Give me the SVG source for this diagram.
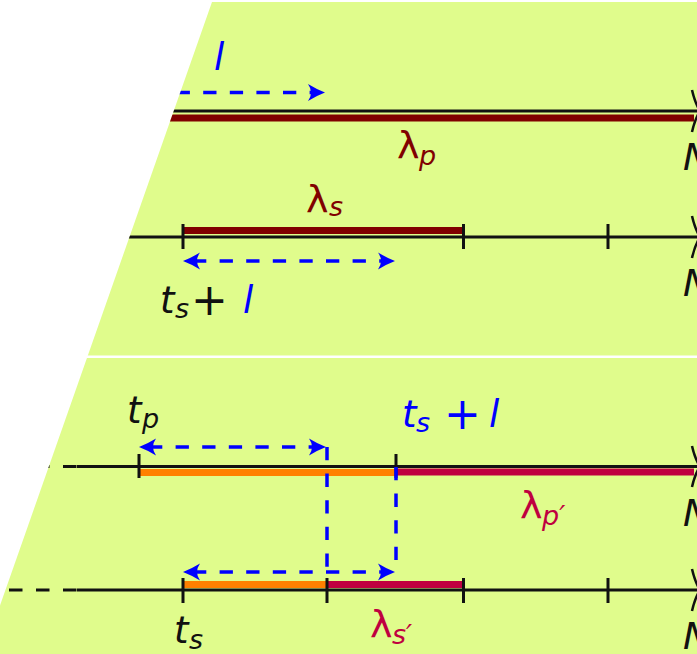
<svg xmlns="http://www.w3.org/2000/svg" width="697" height="654" viewBox="0 0 697 654">
<defs>
<style>
.bg{fill:#E0FC8C}
.axis{stroke:#111;stroke-width:3;fill:none}
.axdash{stroke:#111;stroke-width:3;fill:none;stroke-dasharray:13.5 13.5}
.tick{stroke:#111;stroke-width:3}
.red{stroke:#800000;stroke-width:7}
.org{stroke:#FF8000;stroke-width:7}
.pur{stroke:#BF0040;stroke-width:7}
.blu{stroke:#0000FF;stroke-width:3.5;fill:none;stroke-dasharray:13.3 13.3}
.ah{stroke:#111;stroke-width:2.5;fill:none}
text{font-family:"DejaVu Sans","Noto Sans",sans-serif}
.it{font-style:italic}
.big{font-size:37px}
.sub{font-size:27px}
.lam{font-size:38px}
.plus{font-size:44px}
.k{fill:#111}
.b{fill:#0000FF}
.r{fill:#800000}
.p{fill:#BF0040}
</style>
<clipPath id="slide"><polygon points="212,2 697,2 697,654 -17,654"/></clipPath>
<marker id="arr" markerUnits="userSpaceOnUse" viewBox="-20 -20 40 40" markerWidth="40" markerHeight="40" refX="-10" refY="0" orient="auto-start-reverse" overflow="visible">
<path d="M0,0 Q-8,-3 -17,-8.5 Q-11,0 -17,8.5 Q-8,3 0,0 Z" fill="#0000FF"/>
</marker>
</defs>
<rect width="697" height="654" fill="#FFFFFF"/>
<polygon class="bg" points="212,2 697,2 697,654 -17,654"/>
<g clip-path="url(#slide)">
<g id="panel-1">
<line class="red" x1="100" y1="118" x2="694" y2="118"/>
<line class="axis" x1="100" y1="111" x2="697" y2="111"/>
<path class="ah" d="M692,90 Q695,103 700,111 Q695,119 692,132"/>
<text class="it big b" x="214" y="70">l</text>
<text class="lam r" x="397" y="158">λ</text>
<text class="it sub r" x="419" y="165">p</text>
<text class="it big k" x="683" y="170">N</text>
</g>
<g id="panel-2">
<line class="red" x1="183" y1="230.5" x2="463" y2="230.5"/>
<line class="axis" x1="100" y1="237" x2="697" y2="237"/>
<line class="tick" x1="183" y1="224" x2="183" y2="249"/>
<line class="tick" x1="463.5" y1="224" x2="463.5" y2="249"/>
<line class="tick" x1="608" y1="224" x2="608" y2="249"/>
<path class="ah" d="M692,216 Q695,229 700,237 Q695,245 692,258"/>
<text class="lam r" x="306" y="212">λ</text>
<text class="it sub r" x="329" y="216">s</text>
<text class="it big k" x="160" y="313">t</text>
<text class="it sub k" x="175" y="318">s</text>
<text class="plus k" x="191" y="315">+</text>
<text class="it big b" x="243" y="313">l</text>
<text class="it big k" x="683" y="296">N</text>
</g>
<g id="panel-3">
<line class="org" x1="139" y1="472.5" x2="396" y2="472.5"/>
<line class="pur" x1="396" y1="472" x2="694" y2="472"/>
<line class="axdash" x1="-18" y1="466.5" x2="77" y2="466.5"/>
<line class="axis" x1="77" y1="466.5" x2="697" y2="466.5"/>
<line class="tick" x1="139" y1="454" x2="139" y2="478"/>
<line class="tick" x1="396" y1="454" x2="396" y2="478"/>
<path class="ah" d="M692,446 Q695,459 700,466.5 Q695,474 692,487"/>
<text class="it big k" x="127" y="423">t</text>
<text class="it sub k" x="142" y="428">p</text>
<text class="it big b" x="402" y="427">t</text>
<text class="it sub b" x="416" y="432">s</text>
<text class="plus b" x="444" y="429">+</text>
<text class="it big b" x="489" y="427">l</text>
<text class="lam p" x="520" y="518">λ</text>
<text class="it sub p" x="542" y="525">p′</text>
<text class="it big k" x="683" y="526">N</text>
</g>
<g id="panel-4">
<line class="org" x1="183" y1="584.5" x2="327" y2="584.5"/>
<line class="pur" x1="327" y1="584.5" x2="463" y2="584.5"/>
<line class="axdash" x1="-18" y1="590" x2="77" y2="590"/>
<line class="axis" x1="77" y1="590" x2="697" y2="590"/>
<line class="tick" x1="183" y1="578" x2="183" y2="603"/>
<line class="tick" x1="327" y1="578" x2="327" y2="603"/>
<line class="tick" x1="463.5" y1="578" x2="463.5" y2="603"/>
<line class="tick" x1="608" y1="578" x2="608" y2="603"/>
<path class="ah" d="M692,569 Q695,582 700,590 Q695,598 692,611"/>
<text class="it big k" x="174" y="643">t</text>
<text class="it sub k" x="189" y="649">s</text>
<text class="lam p" x="370" y="637">λ</text>
<text class="it sub p" x="392" y="644">s′</text>
<text class="it big k" x="683" y="649">N</text>
</g>
<g id="connectors">
<line class="blu" x1="150" y1="92.5" x2="315" y2="92.5" marker-end="url(#arr)"/>
<line class="blu" x1="193" y1="261" x2="385" y2="261" marker-start="url(#arr)" marker-end="url(#arr)"/>
<line class="blu" x1="149" y1="447" x2="316" y2="447" marker-start="url(#arr)" marker-end="url(#arr)"/>
<line class="blu" x1="327" y1="447" x2="327" y2="572"/>
<line class="blu" x1="396" y1="467" x2="396" y2="572"/>
<line class="blu" x1="193" y1="572" x2="385" y2="572" marker-start="url(#arr)" marker-end="url(#arr)"/>
</g>
</g>
<rect x="0" y="355.5" width="697" height="2.5" fill="#FFFFFF"/>
</svg>
